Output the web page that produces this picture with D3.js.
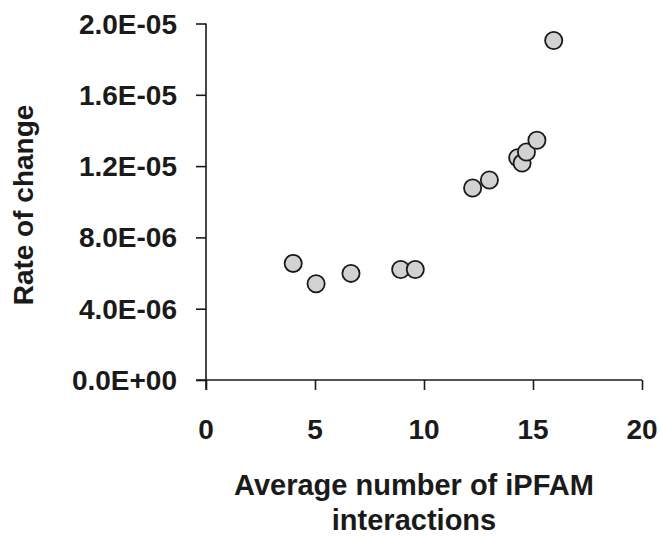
<!DOCTYPE html>
<html>
<head>
<meta charset="utf-8">
<script src="https://cdn.jsdelivr.net/npm/d3@7"></script>
<style>
html,body{margin:0;padding:0;background:#fff;}
svg{display:block;}
text{font-family:"Liberation Sans",Arial,Helvetica,sans-serif;font-weight:bold;fill:#1a1a1a;}
</style>
</head>
<body>
<svg id="chart" width="660" height="537"></svg>
<script>
// Data
const xValues = [4.0, 5.05, 6.65, 8.93, 9.6, 12.23, 13.0, 14.3, 14.5, 14.7, 15.18, 15.95];
const yValues = [6.54e-6, 5.40e-6, 5.98e-6, 6.20e-6, 6.20e-6, 10.77e-6, 11.22e-6, 12.47e-6, 12.17e-6, 12.79e-6, 13.45e-6, 19.05e-6];
const xTicks = [0, 5, 10, 15, 20];
const yTicks = [0, 4e-6, 8e-6, 1.2e-5, 1.6e-5, 2e-5];
const yTickLabels = ["0.0E+00", "4.0E-06", "8.0E-06", "1.2E-05", "1.6E-05", "2.0E-05"];
const xTitleLines = ["Average number of iPFAM", "interactions"];
const yTitle = "Rate of change";

const svg = d3.select("#chart");
const x = d3.scaleLinear().domain([0, 20]).range([206, 642]);
const y = d3.scaleLinear().domain([0, 2e-5]).range([380, 23.5]);

const axisColor = "#1a1a1a";

// X axis
const xAxis = svg.append("g").attr("transform", `translate(0,${y(0)})`)
  .call(d3.axisBottom(x).tickValues(xTicks).tickSize(10).tickFormat(""));
// Y axis
const yAxis = svg.append("g").attr("transform", `translate(${x(0)},0)`)
  .call(d3.axisLeft(y).tickValues(yTicks).tickSize(10).tickFormat(""));

[xAxis, yAxis].forEach(g => {
  g.select(".domain").attr("stroke", axisColor).attr("stroke-width", 1.6);
  g.selectAll(".tick line").attr("stroke", axisColor).attr("stroke-width", 1.6);
});
xAxis.select(".domain").attr("d", `M${x(0) - 10},0H${x(20)}`);
yAxis.select(".domain").attr("d", `M0,${y(2e-5)}V${y(0) + 10}`);

// Tick labels
const tickFont = 28;
svg.append("g").selectAll("text").data(yTicks).join("text")
  .attr("x", 177)
  .attr("y", d => y(d) + 10)
  .attr("text-anchor", "end")
  .attr("font-size", tickFont)
  .text((d, i) => yTickLabels[i]);

svg.append("g").selectAll("text").data(xTicks).join("text")
  .attr("x", d => x(d))
  .attr("y", 439)
  .attr("text-anchor", "middle")
  .attr("font-size", tickFont)
  .text(d => d);

// Axis titles
svg.append("g").selectAll("text").data(xTitleLines).join("text")
  .attr("x", 414)
  .attr("y", (d, i) => 495 + i * 35)
  .attr("text-anchor", "middle")
  .attr("font-size", 29)
  .text(d => d);

svg.append("text")
  .attr("transform", `translate(33,205) rotate(-90)`)
  .attr("text-anchor", "middle")
  .attr("font-size", 28)
  .text(yTitle);

// Points
const pts = xValues.map((v, i) => ({ x: v, y: yValues[i] }));
svg.append("g").selectAll("circle").data(pts).join("circle")
  .attr("cx", d => x(d.x))
  .attr("cy", d => y(d.y))
  .attr("r", 8.6)
  .attr("fill", "#d2d2d2")
  .attr("stroke", "#1a1a1a")
  .attr("stroke-width", 1.8);
</script>
</body>
</html>
